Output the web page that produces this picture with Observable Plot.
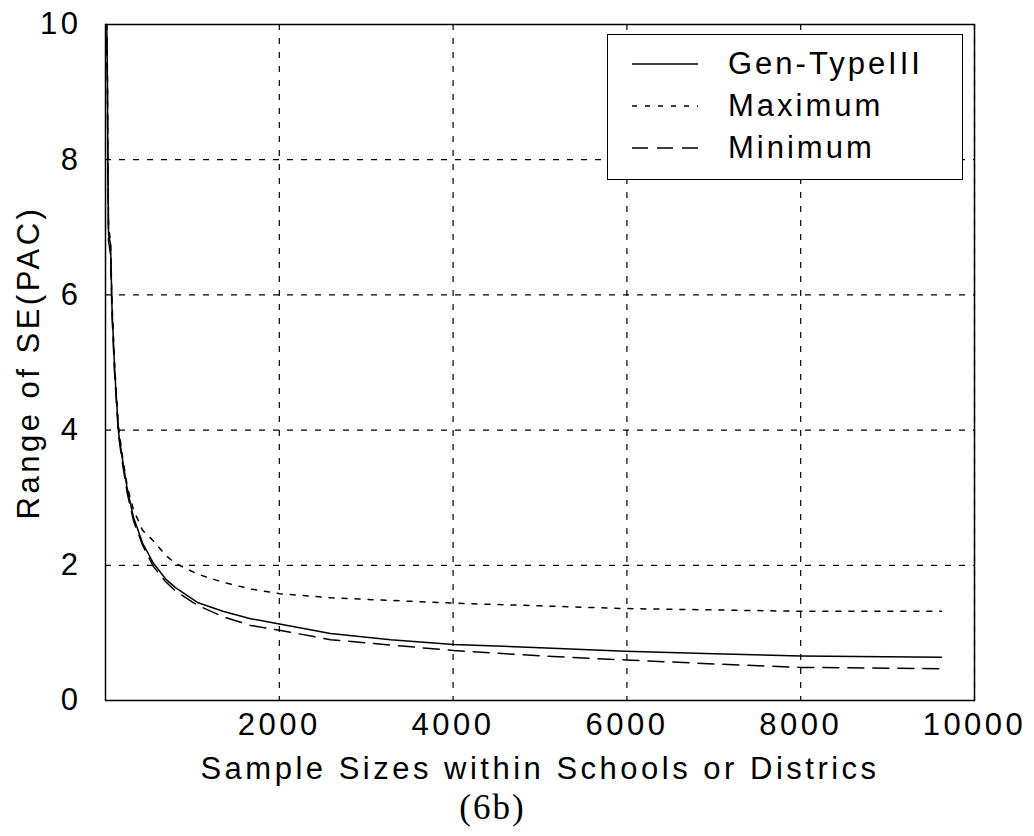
<!DOCTYPE html>
<html><head><meta charset="utf-8">
<script src="https://cdn.jsdelivr.net/npm/d3@7"></script>
<script src="https://cdn.jsdelivr.net/npm/@observablehq/plot@0.6"></script>
<style>
body{margin:0;background:#fff;}
#wrap{position:relative;width:1034px;height:836px;background:#fff;font-family:"Liberation Sans",Arial,sans-serif;}
#wrap > svg{display:block;}
#legend{position:absolute;left:607px;top:34px;width:356px;height:146px;border:1.5px solid #000;background:#fff;box-sizing:border-box;}
.row{position:absolute;left:0;height:40px;width:100%;}
.row svg{position:absolute;left:24px;top:0;}
.row span{position:absolute;left:120px;top:0;line-height:40px;font-size:31px;letter-spacing:3px;color:#000;white-space:nowrap;}
#caption{position:absolute;left:0;width:985px;top:790px;text-align:center;font-family:"Liberation Serif","Times New Roman",serif;font-size:35px;letter-spacing:2px;line-height:1;color:#000;}
</style></head><body><div id="wrap"></div>
<script>
// Data
const seriesNames = ["Gen-TypeIII", "Maximum", "Minimum"];
const sampleSizes = [15, 22, 27, 35, 58, 75, 104, 127, 150, 196, 253, 322, 426, 552, 690, 805, 1058, 1350, 1669, 2002, 2589, 3280, 4005, 5000, 5984, 7000, 8000, 9620];
const genTypeIII = [10, 9.2, 8.0, 6.9, 6.75, 5.8, 4.93, 4.44, 3.97, 3.56, 3.11, 2.71, 2.33, 2.03, 1.80, 1.67, 1.45, 1.32, 1.21, 1.13, 0.99, 0.90, 0.83, 0.78, 0.73, 0.69, 0.66, 0.64];
const maximum    = [10, 9.3, 8.1, 7.0, 6.8, 5.9, 5.0, 4.5, 4.05, 3.6, 3.15, 2.82, 2.52, 2.36, 2.15, 2.03, 1.87, 1.75, 1.65, 1.58, 1.52, 1.48, 1.44, 1.40, 1.36, 1.34, 1.32, 1.32];
const minimum    = [9.8, 9.0, 7.9, 6.8, 6.6, 5.7, 4.85, 4.38, 3.92, 3.5, 3.05, 2.66, 2.30, 1.98, 1.76, 1.62, 1.41, 1.24, 1.11, 1.04, 0.90, 0.82, 0.74, 0.66, 0.60, 0.54, 0.49, 0.47];
const xTicks = [2000, 4000, 6000, 8000, 10000];
const yTicks = [0, 2, 4, 6, 8, 10];
const xLabel = "Sample Sizes within Schools or Districs";
const yLabel = "Range of SE(PAC)";
const captionText = "(6b)";

const seriesValues = [genTypeIII, maximum, minimum];
const dashes = [null, "5,8", "16,9"];
const rows = seriesNames.map((name, i) => sampleSizes.map((x, j) => ({series: name, x, y: seriesValues[i][j]})));

const gridStyle = {stroke: "#000", strokeOpacity: 1, strokeWidth: 1.2, strokeDasharray: "6,8"};

const chart = Plot.plot({
  width: 1034,
  height: 790,
  marginLeft: 105,
  marginRight: 60,
  marginTop: 24,
  marginBottom: 90,
  style: {fontFamily: '"Liberation Sans", Arial, sans-serif', fontSize: "31px", color: "#000", background: "#fff", letterSpacing: "3.5px"},
  x: {domain: [0, 10000]},
  y: {domain: [0, 10]},
  marks: [
    Plot.gridX(xTicks, gridStyle),
    Plot.gridY(yTicks, gridStyle),
    Plot.axisX(xTicks, {tickSize: 0, tickPadding: 12, label: null, tickFormat: d => String(d), fontSize: 31}),
    Plot.axisY(yTicks, {tickSize: 0, tickPadding: 24, label: null, tickFormat: d => String(d), fontSize: 31}),
    ...rows.map((r, i) => Plot.line(r, {x: "x", y: "y", stroke: "#000", strokeWidth: 1.5, strokeDasharray: dashes[i] || undefined})),
    Plot.frame({stroke: "#000", strokeWidth: 1.5}),
    Plot.text([xLabel], {text: d => d, frameAnchor: "bottom", dy: 69, lineAnchor: "middle", fontSize: 31}),
    Plot.text([yLabel], {text: d => d, frameAnchor: "left", dx: -76, rotate: -90, textAnchor: "middle", lineAnchor: "middle", fontSize: 31})
  ]
});

const wrap = document.getElementById("wrap");
wrap.appendChild(chart);

// Legend
const legend = document.createElement("div");
legend.id = "legend";
seriesNames.forEach((name, i) => {
  const row = document.createElement("div");
  row.className = "row";
  row.style.top = (9 + i * 42) + "px";
  const svg = d3.create("svg").attr("width", 68).attr("height", 40);
  svg.append("line").attr("x1", 0).attr("x2", 66).attr("y1", 20).attr("y2", 20)
    .attr("stroke", "#000").attr("stroke-width", 1.5)
    .attr("stroke-dasharray", dashes[i]);
  row.appendChild(svg.node());
  const span = document.createElement("span");
  span.textContent = name;
  row.appendChild(span);
  legend.appendChild(row);
});
wrap.appendChild(legend);

const cap = document.createElement("div");
cap.id = "caption";
cap.textContent = captionText;
wrap.appendChild(cap);
</script></body></html>
